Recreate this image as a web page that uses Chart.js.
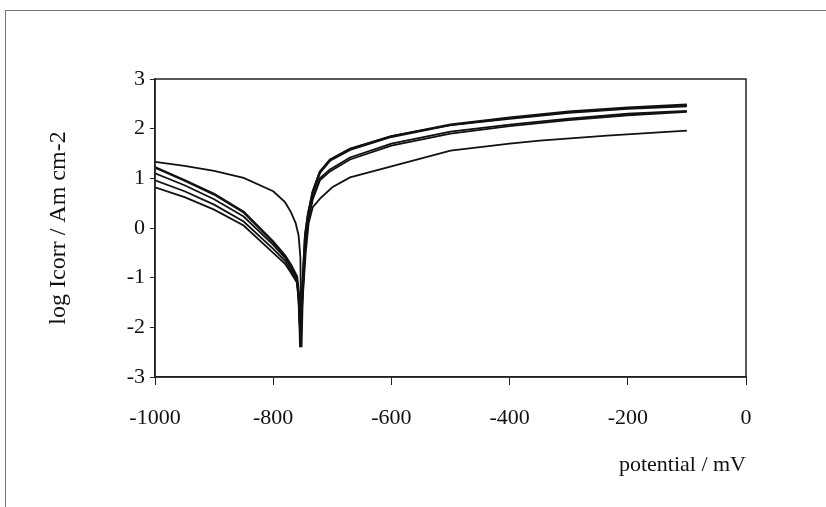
<!DOCTYPE html>
<html>
<head>
<meta charset="utf-8">
<script src="https://cdn.jsdelivr.net/npm/chart.js@4.4.1/dist/chart.umd.min.js"></script>
<style>
  html, body { margin: 0; padding: 0; background: #fff; }
  #wrap { position: relative; width: 826px; height: 507px; }
  #frame {
    position: absolute; left: 5px; top: 10px; right: 0; bottom: 0;
    border-left: 1px solid #777; border-top: 1px solid #777;
    pointer-events: none;
  }
</style>
</head>
<body>
<div id="wrap">
  <canvas id="polChart" width="826" height="507"></canvas>
  <div id="frame"></div>
</div>
<script>
// polarisation curves (potential in mV, log current)
const xTicks = [-1000, -800, -600, -400, -200, 0];
const yTicks = [-3, -2, -1, 0, 1, 2, 3];

const potA = [-1000, -950, -900, -850, -800, -780, -770, -762, -757, -754, -752,
              -750, -745, -740, -733, -720, -700, -670, -600, -500, -400, -349, -235, -100];
const logA = [1.33, 1.25, 1.15, 1.01, 0.74, 0.52, 0.32, 0.1, -0.15, -0.6, -2.4,
              -1.4, -0.5, 0.1, 0.42, 0.6, 0.82, 1.02, 1.24, 1.56, 1.7, 1.76, 1.86, 1.96];

// the other four share the same potentials
const potB = [-1000, -950, -900, -850, -800, -780, -770, -760, -757, -755, -754,
              -752, -749, -746, -741, -733, -721, -704, -670, -600, -500, -400, -300, -200, -100];
const logB = [1.22, 0.96, 0.68, 0.32, -0.28, -0.56, -0.75, -0.98, -1.3, -1.9, -2.4,
              -1.6, -0.9, -0.2, 0.26, 0.72, 1.12, 1.36, 1.58, 1.84, 2.08, 2.22, 2.34, 2.42, 2.48];
const logC = [1.1, 0.86, 0.58, 0.23, -0.34, -0.6, -0.79, -1.0, -1.35, -1.9, -2.3,
              -1.5, -0.8, -0.1, 0.3, 0.75, 1.14, 1.38, 1.6, 1.85, 2.07, 2.2, 2.32, 2.4, 2.45];
const logD = [0.96, 0.74, 0.47, 0.13, -0.42, -0.66, -0.85, -1.05, -1.4, -1.95, -2.3,
              -1.7, -1.0, -0.35, 0.18, 0.62, 1.0, 1.18, 1.42, 1.7, 1.94, 2.08, 2.2, 2.3, 2.36];
const logE = [0.82, 0.62, 0.37, 0.05, -0.5, -0.72, -0.9, -1.1, -1.45, -2.0, -2.35,
              -1.8, -1.1, -0.4, 0.14, 0.58, 0.96, 1.14, 1.38, 1.66, 1.9, 2.05, 2.17, 2.27, 2.34];

const serif = 'Liberation Serif';

function toPoints(xs, ys) {
  return xs.map((x, i) => ({ x: x, y: ys[i] }));
}

function curve(xs, ys, width) {
  return {
    data: toPoints(xs, ys),
    showLine: true,
    borderColor: '#111',
    borderWidth: width,
    pointRadius: 0,
    tension: 0
  };
}

// box round the plot area (top and right sides)
const plotBox = {
  id: 'plotBox',
  afterDraw(chart) {
    const { ctx, chartArea: a } = chart;
    ctx.save();
    ctx.strokeStyle = '#222';
    ctx.lineWidth = 1.5;
    ctx.strokeRect(a.left, a.top, a.right - a.left, a.bottom - a.top);
    ctx.restore();
  }
};

const ctx = document.getElementById('polChart').getContext('2d');
new Chart(ctx, {
  type: 'scatter',
  data: {
    datasets: [
      curve(potA, logA, 1.8),
      curve(potB, logB, 2.6),
      curve(potB, logC, 1.8),
      curve(potB, logD, 1.8),
      curve(potB, logE, 1.8)
    ]
  },
  options: {
    responsive: false,
    animation: false,
    devicePixelRatio: 1,
    layout: { padding: { top: 79, right: 80, left: 0, bottom: 0 } },
    plugins: { legend: { display: false }, tooltip: { enabled: false } },
    scales: {
      x: {
        type: 'linear',
        min: -1000,
        max: 0,
        afterFit: s => { s.height = 130; },
        afterBuildTicks: s => { s.ticks = xTicks.map(v => ({ value: v })); },
        grid: { drawOnChartArea: false, tickLength: 8, color: '#222' },
        border: { display: true, color: '#222', width: 1.5 },
        ticks: {
          padding: 20,
          color: '#111',
          font: { family: serif, size: 22 },
          callback: v => String(v)
        },
        title: {
          display: true,
          text: 'potential / mV',
          align: 'end',
          color: '#111',
          font: { family: serif, size: 22 },
          padding: { top: 0, bottom: 29 }
        }
      },
      y: {
        min: -3,
        max: 3,
        afterFit: s => { s.width = 155; },
        afterBuildTicks: s => { s.ticks = yTicks.map(v => ({ value: v })); },
        grid: { drawOnChartArea: false, tickLength: 5, color: '#222' },
        border: { display: true, color: '#222', width: 1.5 },
        ticks: {
          padding: 5,
          color: '#111',
          font: { family: serif, size: 22 },
          callback: v => String(v)
        },
        title: {
          display: true,
          text: 'log Icorr / Am cm-2',
          color: '#111',
          font: { family: serif, size: 24 },
          padding: { top: 44, bottom: 0 }
        }
      }
    }
  },
  plugins: [plotBox]
});
</script>
</body>
</html>
